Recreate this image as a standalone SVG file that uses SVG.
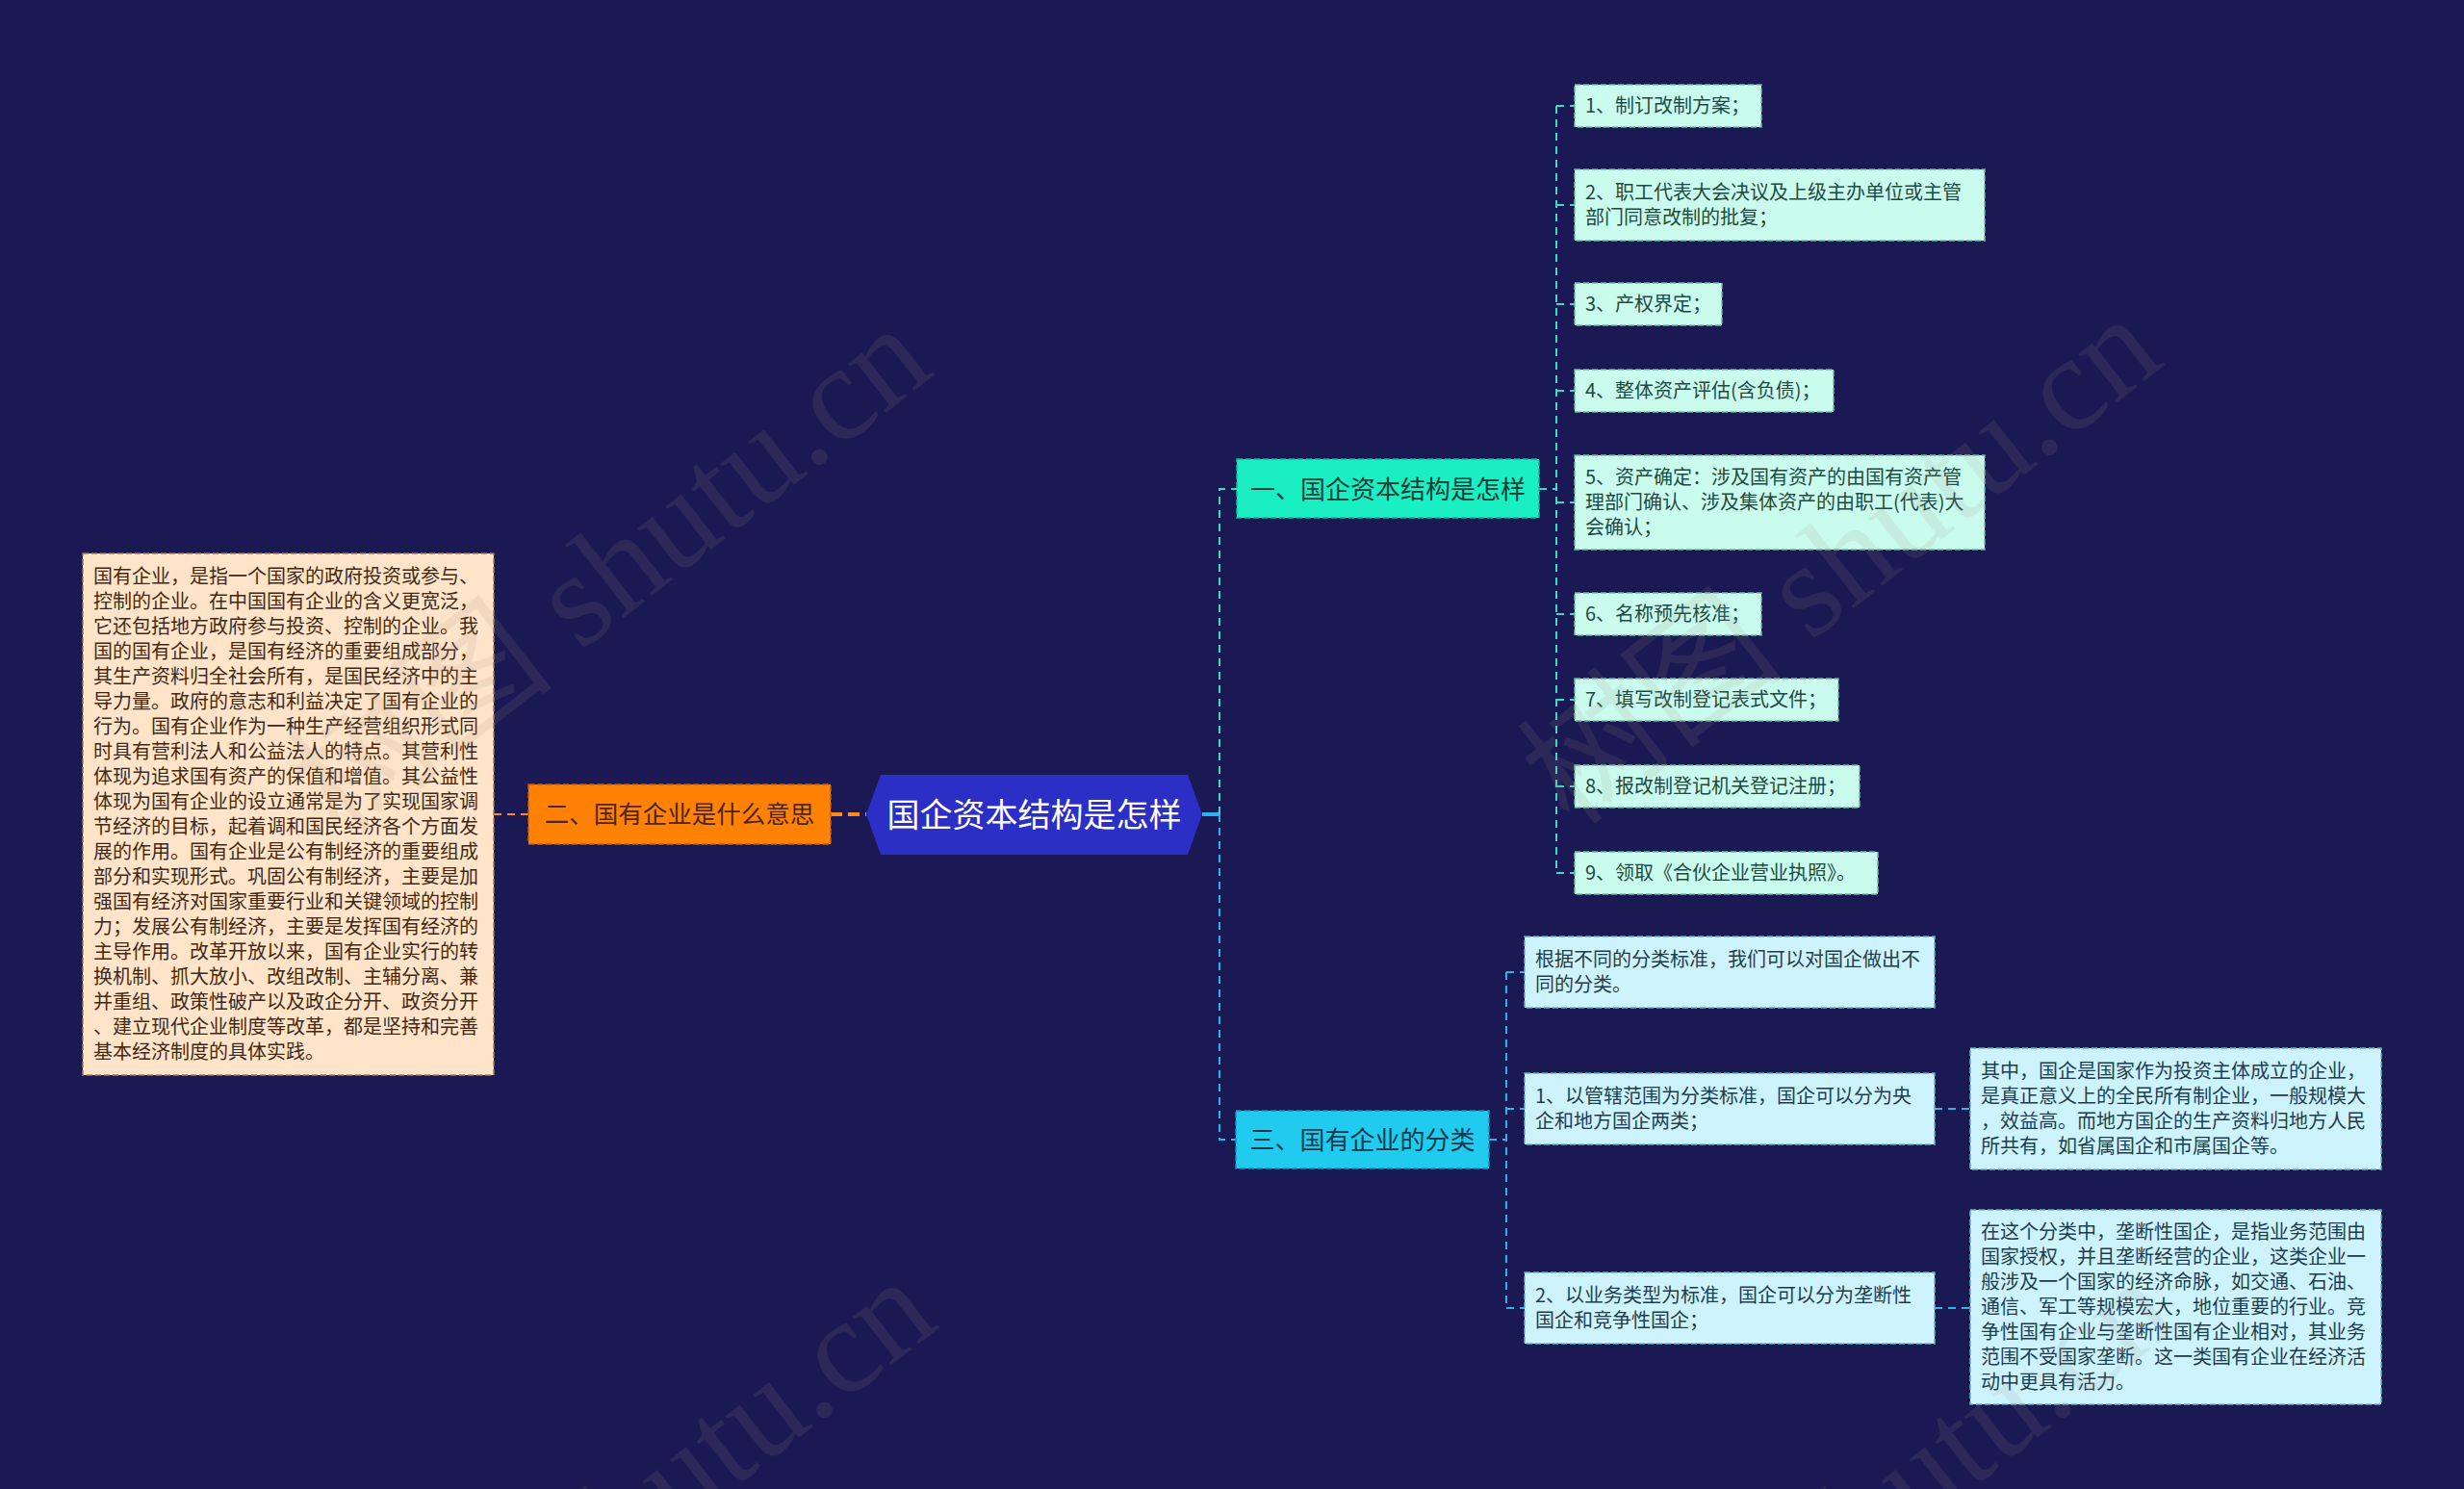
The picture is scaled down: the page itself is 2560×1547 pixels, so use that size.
<svg xmlns="http://www.w3.org/2000/svg" width="2560" height="1547" viewBox="0 0 2560 1547">
<defs>
<style>
text { font-family: "Noto Sans CJK SC", "Noto Sans", sans-serif; }
.t20 { font-size: 20px; }
.lt { fill: #1f4a42; }
.bt { fill: #1f3d4d; }
.pt { fill: #3e2a16; }
.c1box { fill: #cafcee; stroke: #6fb7a6; stroke-width: 1.5; stroke-dasharray: 6 3; }
.c3box { fill: #cdf4fc; stroke: #6aaec4; stroke-width: 1.5; stroke-dasharray: 6 3; }
.teal { fill: none; stroke: #3dd8c3; stroke-width: 2; stroke-dasharray: 8 6; }
.blue { fill: none; stroke: #2bb3ef; stroke-width: 2; stroke-dasharray: 8 6; }
.orng { fill: none; stroke: #ff8a1a; stroke-width: 2; stroke-dasharray: 8 6; }
.wm { font-family: "Liberation Serif", "Noto Sans CJK SC", serif; font-size: 140px; fill: #a09080; opacity: 0.13; }
</style>
</defs>
<rect width="2560" height="1547" fill="#1b1953"/>

<g id="connectors">
  <path d="M1249 846 H1267" stroke="#2bb3ef" stroke-width="4" fill="none"/>
  <path class="teal" d="M1267 846 V508 H1285"/>
  <path class="blue" d="M1267 846 V1184 H1284"/>
  <path class="teal" d="M1599 508 H1617"/>
  <path class="teal" d="M1617 110 V907"/>
  <path class="teal" d="M1617 110 H1636 M1617 213 H1636 M1617 316 H1636 M1617 406 H1636 M1617 522 H1636 M1617 638 H1636 M1617 727 H1636 M1617 817 H1636 M1617 907 H1636"/>
  <path class="blue" d="M1547 1184 H1565"/>
  <path class="blue" d="M1565 1010 V1359"/>
  <path class="blue" d="M1565 1010 H1584 M1565 1152 H1584 M1565 1359 H1584"/>
  <path class="blue" d="M2010 1152 H2047 M2010 1359 H2047"/>
  <path d="M863 846 H900" stroke="#ff8a1a" stroke-width="4" stroke-dasharray="12 6" fill="none"/>
  <path class="orng" d="M513 846 H549"/>
</g>

<g id="center">
  <polygon points="900,846 915,805 1234,805 1249,846 1234,888 915,888" fill="#2b2fc6"/>
  <text x="1074.5" y="859" font-size="34" fill="#ffffff" text-anchor="middle">国企资本结构是怎样</text>
</g>

<g id="branch2">
  <rect x="549" y="815" width="314" height="62" fill="#ff8206" stroke="#c45f00" stroke-width="1.5" stroke-dasharray="6 3"/>
  <text x="706" y="855" font-size="25.5" fill="#4a2508" text-anchor="middle">二、国有企业是什么意思</text>
</g>

<g id="branch2-detail">
  <rect x="86" y="575" width="427" height="542" fill="#ffe4c9" stroke="#a07850" stroke-width="1.5" stroke-dasharray="6 3"/>
  <text class="t20 pt">
    <tspan x="97" y="606">国有企业，是指一个国家的政府投资或参与、</tspan>
    <tspan x="97" y="632">控制的企业。在中国国有企业的含义更宽泛，</tspan>
    <tspan x="97" y="658">它还包括地方政府参与投资、控制的企业。我</tspan>
    <tspan x="97" y="684">国的国有企业，是国有经济的重要组成部分，</tspan>
    <tspan x="97" y="710">其生产资料归全社会所有，是国民经济中的主</tspan>
    <tspan x="97" y="736">导力量。政府的意志和利益决定了国有企业的</tspan>
    <tspan x="97" y="762">行为。国有企业作为一种生产经营组织形式同</tspan>
    <tspan x="97" y="788">时具有营利法人和公益法人的特点。其营利性</tspan>
    <tspan x="97" y="814">体现为追求国有资产的保值和增值。其公益性</tspan>
    <tspan x="97" y="840">体现为国有企业的设立通常是为了实现国家调</tspan>
    <tspan x="97" y="866">节经济的目标，起着调和国民经济各个方面发</tspan>
    <tspan x="97" y="892">展的作用。国有企业是公有制经济的重要组成</tspan>
    <tspan x="97" y="918">部分和实现形式。巩固公有制经济，主要是加</tspan>
    <tspan x="97" y="944">强国有经济对国家重要行业和关键领域的控制</tspan>
    <tspan x="97" y="970">力；发展公有制经济，主要是发挥国有经济的</tspan>
    <tspan x="97" y="996">主导作用。改革开放以来，国有企业实行的转</tspan>
    <tspan x="97" y="1022">换机制、抓大放小、改组改制、主辅分离、兼</tspan>
    <tspan x="97" y="1048">并重组、政策性破产以及政企分开、政资分开</tspan>
    <tspan x="97" y="1074">、建立现代企业制度等改革，都是坚持和完善</tspan>
    <tspan x="97" y="1100">基本经济制度的具体实践。</tspan>
  </text>
</g>

<g id="branch1">
  <rect x="1285" y="477" width="314" height="61" fill="#19efc3" stroke="#12b894" stroke-width="1.5" stroke-dasharray="6 3"/>
  <text x="1442" y="518" font-size="26" fill="#0d3b35" text-anchor="middle">一、国企资本结构是怎样</text>
</g>

<g id="b1-1"><rect class="c1box" x="1636" y="88" width="194" height="44"/><text class="t20 lt" x="1647" y="117">1、制订改制方案；</text></g>
<g id="b1-2"><rect class="c1box" x="1636" y="176" width="426" height="74"/><text class="t20 lt"><tspan x="1647" y="207">2、职工代表大会决议及上级主办单位或主管</tspan><tspan x="1647" y="233">部门同意改制的批复；</tspan></text></g>
<g id="b1-3"><rect class="c1box" x="1636" y="294" width="153" height="44"/><text class="t20 lt" x="1647" y="323">3、产权界定；</text></g>
<g id="b1-4"><rect class="c1box" x="1636" y="384" width="269" height="44"/><text class="t20 lt" x="1647" y="413">4、整体资产评估(含负债)；</text></g>
<g id="b1-5"><rect class="c1box" x="1636" y="473" width="426" height="98"/><text class="t20 lt"><tspan x="1647" y="503">5、资产确定：涉及国有资产的由国有资产管</tspan><tspan x="1647" y="529">理部门确认、涉及集体资产的由职工(代表)大</tspan><tspan x="1647" y="555">会确认；</tspan></text></g>
<g id="b1-6"><rect class="c1box" x="1636" y="616" width="194" height="44"/><text class="t20 lt" x="1647" y="645">6、名称预先核准；</text></g>
<g id="b1-7"><rect class="c1box" x="1636" y="705" width="274" height="44"/><text class="t20 lt" x="1647" y="734">7、填写改制登记表式文件；</text></g>
<g id="b1-8"><rect class="c1box" x="1636" y="795" width="296" height="44"/><text class="t20 lt" x="1647" y="824">8、报改制登记机关登记注册；</text></g>
<g id="b1-9"><rect class="c1box" x="1636" y="885" width="315" height="44"/><text class="t20 lt" x="1647" y="914">9、领取《合伙企业营业执照》。</text></g>

<g id="branch3">
  <rect x="1284" y="1154" width="263" height="60" fill="#20cbef" stroke="#1291c0" stroke-width="1.5" stroke-dasharray="6 3"/>
  <text x="1415.5" y="1194" font-size="26" fill="#0c3a4b" text-anchor="middle">三、国有企业的分类</text>
</g>

<g id="b3-0"><rect class="c3box" x="1584" y="973" width="426" height="74"/><text class="t20 bt"><tspan x="1595" y="1004">根据不同的分类标准，我们可以对国企做出不</tspan><tspan x="1595" y="1030">同的分类。</tspan></text></g>
<g id="b3-1"><rect class="c3box" x="1584" y="1115" width="426" height="74"/><text class="t20 bt"><tspan x="1595" y="1146">1、以管辖范围为分类标准，国企可以分为央</tspan><tspan x="1595" y="1172">企和地方国企两类；</tspan></text></g>
<g id="b3-2"><rect class="c3box" x="1584" y="1322" width="426" height="74"/><text class="t20 bt"><tspan x="1595" y="1353">2、以业务类型为标准，国企可以分为垄断性</tspan><tspan x="1595" y="1379">国企和竞争性国企；</tspan></text></g>

<g id="b3-1-1"><rect class="c3box" x="2047" y="1089" width="427" height="126"/><text class="t20 bt"><tspan x="2058" y="1120">其中，国企是国家作为投资主体成立的企业，</tspan><tspan x="2058" y="1146">是真正意义上的全民所有制企业，一般规模大</tspan><tspan x="2058" y="1172">，效益高。而地方国企的生产资料归地方人民</tspan><tspan x="2058" y="1198">所共有，如省属国企和市属国企等。</tspan></text></g>
<g id="b3-2-1"><rect class="c3box" x="2047" y="1257" width="427" height="202"/><text class="t20 bt"><tspan x="2058" y="1287">在这个分类中，垄断性国企，是指业务范围由</tspan><tspan x="2058" y="1313">国家授权，并且垄断经营的企业，这类企业一</tspan><tspan x="2058" y="1339">般涉及一个国家的经济命脉，如交通、石油、</tspan><tspan x="2058" y="1365">通信、军工等规模宏大，地位重要的行业。竞</tspan><tspan x="2058" y="1391">争性国有企业与垄断性国有企业相对，其业务</tspan><tspan x="2058" y="1417">范围不受国家垄断。这一类国有企业在经济活</tspan><tspan x="2058" y="1443">动中更具有活力。</tspan></text></g>

<g id="watermarks">
  <text class="wm" x="633" y="640" text-anchor="middle" transform="rotate(-38 633 590)">树图 shutu.cn</text>
  <text class="wm" x="1911" y="630" text-anchor="middle" transform="rotate(-38 1911 580)">树图 shutu.cn</text>
  <text class="wm" x="638" y="1630" text-anchor="middle" transform="rotate(-38 638 1580)">树图 shutu.cn</text>
  <text class="wm" x="1925" y="1630" text-anchor="middle" transform="rotate(-38 1925 1580)">树图 shutu.cn</text>
</g>
</svg>
